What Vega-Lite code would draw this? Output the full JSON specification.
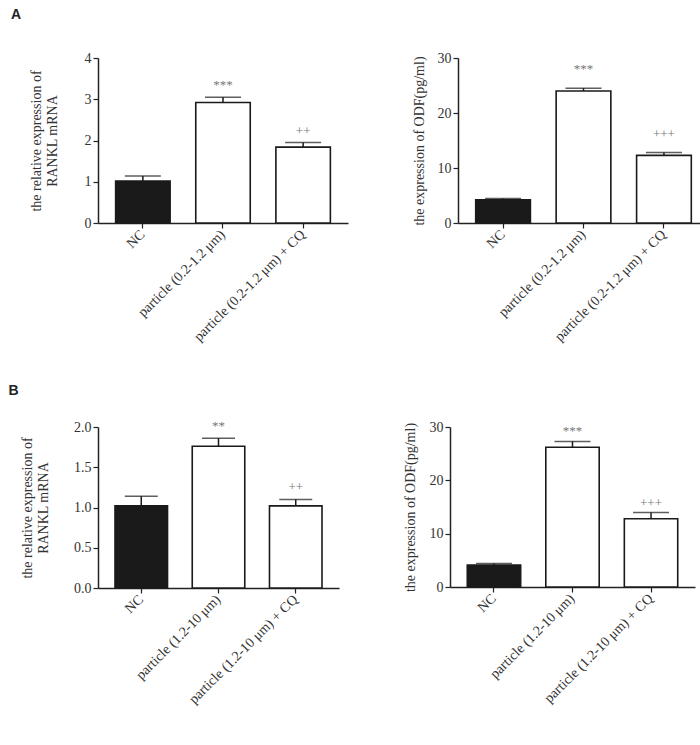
{
  "$schema": "https://vega.github.io/schema/vega-lite/v6.json",
  "background": "white",
  "padding": {"left": 8, "top": 8, "right": 2, "bottom": 2},
  "spacing": 38,
  "data": {"values": [
    {"panel": "A1", "group": "NC", "value": 1.02, "upper": 1.14, "sig": ""},
    {"panel": "A1", "group": "particle (0.2-1.2 μm)", "value": 2.92, "upper": 3.05, "sig": "***"},
    {"panel": "A1", "group": "particle (0.2-1.2 μm)  + CQ", "value": 1.84, "upper": 1.95, "sig": "++"},
    {"panel": "A2", "group": "NC", "value": 4.2, "upper": 4.45, "sig": ""},
    {"panel": "A2", "group": "particle (0.2-1.2 μm)", "value": 24.0, "upper": 24.5, "sig": "***"},
    {"panel": "A2", "group": "particle (0.2-1.2 μm)  + CQ", "value": 12.3, "upper": 12.8, "sig": "+++"},
    {"panel": "B1", "group": "NC", "value": 1.02, "upper": 1.14, "sig": ""},
    {"panel": "B1", "group": "particle (1.2-10 μm)", "value": 1.76, "upper": 1.86, "sig": "**"},
    {"panel": "B1", "group": "particle (1.2-10 μm)  + CQ", "value": 1.02, "upper": 1.10, "sig": "++"},
    {"panel": "B2", "group": "NC", "value": 4.1, "upper": 4.4, "sig": ""},
    {"panel": "B2", "group": "particle (1.2-10 μm)", "value": 26.2, "upper": 27.3, "sig": "***"},
    {"panel": "B2", "group": "particle (1.2-10 μm)  + CQ", "value": 12.8, "upper": 13.95, "sig": "+++"}
  ]},
  "config": {
    "view": {"stroke": null},
    "font": "Liberation Serif",
    "axis": {
      "domainColor": "#222", "domainWidth": 1.5, "tickColor": "#222", "tickWidth": 1.2, "tickSize": 5,
      "labelFont": "Liberation Serif", "labelColor": "#333", "labelFontSize": 14,
      "titleFont": "Liberation Serif", "titleColor": "#333", "titleFontSize": 14, "titleFontWeight": "normal",
      "grid": false
    },
    "concat": {"spacing": 64},
    "title": {"font": "Liberation Sans", "fontWeight": "bold", "fontSize": 14, "anchor": "start", "color": "#222"}
  },
  "vconcat": [
    {
      "title": {"text": "A", "offset": 29, "dx": -18},
      "hconcat": [
        {
          "transform": [{"filter": "datum.panel === 'A1'"}],
          "width": 250, "height": 165,
          "encoding": {"x": {"field": "group", "type": "nominal", "sort": null,
            "scale": {"paddingInner": 0.32, "paddingOuter": 0.22},
            "axis": {"title": null, "labelAngle": -45, "labelAlign": "right", "labelBaseline": "middle", "labelPadding": 4}}},
          "layer": [
            {"mark": {"type": "bar", "stroke": "#1a1a1a", "strokeWidth": 1.6},
             "encoding": {
               "y": {"field": "value", "type": "quantitative", "scale": {"domain": [0, 4]},
                     "axis": {"title": ["the relative expression of", "RANKL mRNA"], "values": [0, 1, 2, 3, 4], "titlePadding": 25}},
               "fill": {"condition": {"test": "datum.group === 'NC'", "value": "#1a1a1a"}, "value": "white"}}},
            {"mark": {"type": "rule", "color": "#1a1a1a", "strokeWidth": 1.5},
             "encoding": {"y": {"field": "value", "type": "quantitative"}, "y2": {"field": "upper"}}},
            {"mark": {"type": "tick", "color": "#1a1a1a", "thickness": 1.5, "size": 36},
             "encoding": {"y": {"field": "upper", "type": "quantitative"}}},
            {"mark": {"type": "text", "baseline": "bottom", "dy": -5, "fontSize": 13, "color": "#777"},
             "encoding": {"y": {"field": "upper", "type": "quantitative"}, "text": {"field": "sig"}}}
          ]
        },
        {
          "transform": [{"filter": "datum.panel === 'A2'"}],
          "width": 251, "height": 165,
          "encoding": {"x": {"field": "group", "type": "nominal", "sort": null,
            "scale": {"paddingInner": 0.32, "paddingOuter": 0.22},
            "axis": {"title": null, "labelAngle": -45, "labelAlign": "right", "labelBaseline": "middle", "labelPadding": 4}}},
          "layer": [
            {"mark": {"type": "bar", "stroke": "#1a1a1a", "strokeWidth": 1.6},
             "encoding": {
               "y": {"field": "value", "type": "quantitative", "scale": {"domain": [0, 30]},
                     "axis": {"title": "the  expression of ODF(pg/ml)", "values": [0, 10, 20, 30], "titlePadding": 11}},
               "fill": {"condition": {"test": "datum.group === 'NC'", "value": "#1a1a1a"}, "value": "white"}}},
            {"mark": {"type": "rule", "color": "#1a1a1a", "strokeWidth": 1.5},
             "encoding": {"y": {"field": "value", "type": "quantitative"}, "y2": {"field": "upper"}}},
            {"mark": {"type": "tick", "color": "#1a1a1a", "thickness": 1.5, "size": 36},
             "encoding": {"y": {"field": "upper", "type": "quantitative"}}},
            {"mark": {"type": "text", "baseline": "bottom", "dy": -12, "fontSize": 13, "color": "#777"},
             "encoding": {"y": {"field": "upper", "type": "quantitative"}, "text": {"field": "sig"}}}
          ]
        }
      ]
    },
    {
      "title": {"text": "B", "offset": 22, "dx": -12},
      "hconcat": [
        {
          "transform": [{"filter": "datum.panel === 'B1'"}],
          "width": 241, "height": 161,
          "encoding": {"x": {"field": "group", "type": "nominal", "sort": null,
            "scale": {"paddingInner": 0.32, "paddingOuter": 0.22},
            "axis": {"title": null, "labelAngle": -45, "labelAlign": "right", "labelBaseline": "middle", "labelPadding": 4}}},
          "layer": [
            {"mark": {"type": "bar", "stroke": "#1a1a1a", "strokeWidth": 1.6},
             "encoding": {
               "y": {"field": "value", "type": "quantitative", "scale": {"domain": [0, 2]},
                     "axis": {"title": ["the relative expression of", "RANKL mRNA"], "values": [0, 0.5, 1, 1.5, 2], "format": ".1f", "titlePadding": 23}},
               "fill": {"condition": {"test": "datum.group === 'NC'", "value": "#1a1a1a"}, "value": "white"}}},
            {"mark": {"type": "rule", "color": "#1a1a1a", "strokeWidth": 1.5},
             "encoding": {"y": {"field": "value", "type": "quantitative"}, "y2": {"field": "upper"}}},
            {"mark": {"type": "tick", "color": "#1a1a1a", "thickness": 1.5, "size": 33},
             "encoding": {"y": {"field": "upper", "type": "quantitative"}}},
            {"mark": {"type": "text", "baseline": "bottom", "dy": -5, "fontSize": 13, "color": "#777"},
             "encoding": {"y": {"field": "upper", "type": "quantitative"}, "text": {"field": "sig"}}}
          ]
        },
        {
          "transform": [{"filter": "datum.panel === 'B2'"}],
          "width": 245, "height": 160,
          "encoding": {"x": {"field": "group", "type": "nominal", "sort": null,
            "scale": {"paddingInner": 0.32, "paddingOuter": 0.22},
            "axis": {"title": null, "labelAngle": -45, "labelAlign": "right", "labelBaseline": "middle", "labelPadding": 4}}},
          "layer": [
            {"mark": {"type": "bar", "stroke": "#1a1a1a", "strokeWidth": 1.6},
             "encoding": {
               "y": {"field": "value", "type": "quantitative", "scale": {"domain": [0, 30]},
                     "axis": {"title": "the  expression of ODF(pg/ml)", "values": [0, 10, 20, 30], "titlePadding": 12}},
               "fill": {"condition": {"test": "datum.group === 'NC'", "value": "#1a1a1a"}, "value": "white"}}},
            {"mark": {"type": "rule", "color": "#1a1a1a", "strokeWidth": 1.5},
             "encoding": {"y": {"field": "value", "type": "quantitative"}, "y2": {"field": "upper"}}},
            {"mark": {"type": "tick", "color": "#1a1a1a", "thickness": 1.5, "size": 36},
             "encoding": {"y": {"field": "upper", "type": "quantitative"}}},
            {"mark": {"type": "text", "baseline": "bottom", "dy": -3, "fontSize": 13, "color": "#777"},
             "encoding": {"y": {"field": "upper", "type": "quantitative"}, "text": {"field": "sig"}}}
          ]
        }
      ]
    }
  ]
}
